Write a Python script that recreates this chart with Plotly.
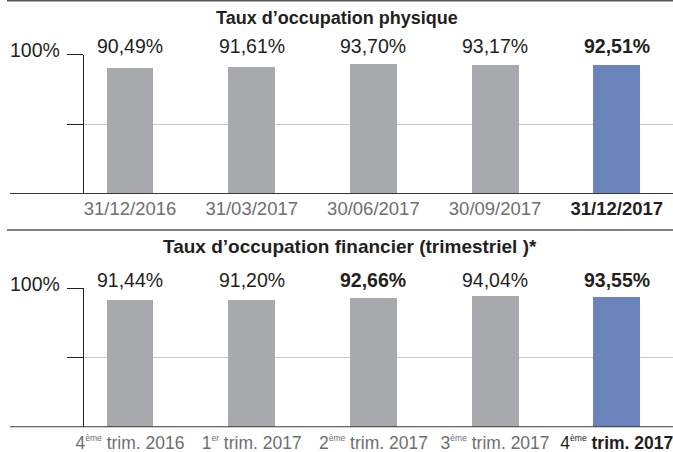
import plotly.graph_objects as go

# ---- data ----
SUP = "<sup><span style='font-size:8.5px'>%s</span></sup>"
phys_categories = ["31/12/2016", "31/03/2017", "30/06/2017", "30/09/2017", "31/12/2017"]
phys_values = [90.49, 91.61, 93.70, 93.17, 92.51]
phys_labels = ["90,49%", "91,61%", "93,70%", "93,17%", "92,51%"]
phys_bold = [False, False, False, False, True]

fin_categories = ["4" + SUP % "ème" + " trim. 2016", "1" + SUP % "er" + " trim. 2017",
                  "2" + SUP % "ème" + " trim. 2017", "3" + SUP % "ème" + " trim. 2017",
                  "4" + SUP % "ème" + " <b>trim. 2017</b>"]
fin_values = [91.44, 91.20, 92.66, 94.04, 93.55]
fin_labels = ["91,44%", "91,20%", "92,66%", "94,04%", "93,55%"]
fin_bold = [False, False, True, False, True]

title_phys = "Taux d’occupation physique"
title_fin = "Taux d’occupation financier (trimestriel )*"

y_ticks = [50, 100]

# ---- style ----
W, H = 673, 452
FONT = "Liberation Sans, Arial, Helvetica, sans-serif"
GRAY = "#a7a9ac"
BLUE = "#6b84bc"
DARK = "#231f20"
TICKGRAY = "#6d6e71"
GRID = "#c8c8c8"

bar_colors = [GRAY, GRAY, GRAY, GRAY, BLUE]
xpos = list(range(len(phys_values)))

fig = go.Figure()
fig.add_trace(go.Bar(x=xpos, y=phys_values, width=0.386, marker=dict(color=bar_colors, line=dict(width=0)),
                     xaxis="x", yaxis="y", hoverinfo="skip", showlegend=False))
fig.add_trace(go.Bar(x=xpos, y=fin_values, width=0.386, marker=dict(color=bar_colors, line=dict(width=0)),
                     xaxis="x2", yaxis="y2", hoverinfo="skip", showlegend=False))

x_left_px, x_right_px = 84, 673
c0, step = 130, 121.7
xr = [(x_left_px - c0) / step, (x_right_px - c0) / step]

def pyp(px):
    return 1 - px / H

top_base, top_100 = 194, 54.5
bot_base, bot_100 = 427.3, 288

def xaxis_cfg(cats, standoff, size):
    texts = list(cats[:-1])
    last = cats[-1]
    if "<b>" not in last:
        last = "<b>" + last + "</b>"
    texts.append("<span style='color:%s'>%s</span>" % (DARK, last))
    return dict(domain=[x_left_px / W, 1], range=xr, tickmode="array", tickvals=xpos, ticktext=texts,
                showline=False, showgrid=False, zeroline=False, ticks="", fixedrange=True,
                tickangle=0, automargin=False, ticklabelstandoff=standoff, ticklabeloverflow="allow",
                tickfont=dict(family=FONT, size=size, color=TICKGRAY))

def yaxis_cfg(base, top, anchor):
    return dict(domain=[pyp(base), pyp(top)], range=[0, 100], anchor=anchor,
                tickmode="array", tickvals=y_ticks, showticklabels=False, automargin=False,
                ticks="outside", ticklen=16, tickwidth=1.2, tickcolor=DARK,
                showline=True, linecolor=DARK, linewidth=1.4,
                showgrid=True, gridcolor=GRID, gridwidth=1, zeroline=False, fixedrange=True)

fig.update_layout(
    width=W, height=H, margin=dict(l=0, r=0, t=0, b=0, autoexpand=False),
    paper_bgcolor="white", plot_bgcolor="white",
    font=dict(family=FONT, color=DARK),
    bargap=0,
    xaxis=dict(**xaxis_cfg(phys_categories, 1, 18.5), anchor="y"),
    yaxis=yaxis_cfg(top_base, top_100, "x"),
    xaxis2=dict(**xaxis_cfg(fin_categories, 3, 17.5), anchor="y2"),
    yaxis2=yaxis_cfg(bot_base, bot_100, "x2"),
)

shapes = []
# baselines
for yref in ["y", "y2"]:
    shapes.append(dict(type="line", xref="paper", yref=yref, x0=10 / W, x1=1, y0=0, y1=0,
                       line=dict(color="#3a3a3a", width=2)))
# separators
for py in [0.8, 230]:
    shapes.append(dict(type="line", xref="paper", yref="paper", x0=7 / W, x1=1, y0=pyp(py), y1=pyp(py),
                       line=dict(color="#555555", width=1.6)))
fig.update_layout(shapes=shapes)

ann = []
ann.append(dict(text="<b>" + title_phys + "</b>", x=0.5, y=pyp(18.3), xref="paper", yref="paper",
                showarrow=False, xanchor="center", yanchor="middle", font=dict(size=18, color=DARK)))
ann.append(dict(text="<b>" + title_fin + "</b>", x=350 / W, y=pyp(246.7), xref="paper", yref="paper",
                showarrow=False, xanchor="center", yanchor="middle", font=dict(size=19, color=DARK)))
for py in [49.7, 284.2]:
    ann.append(dict(text="100%", x=35 / W, y=pyp(py), xref="paper", yref="paper",
                    showarrow=False, xanchor="center", yanchor="middle", font=dict(size=19.5, color=DARK)))
for xr_, py, labels, bolds in [("x", 45.7, phys_labels, phys_bold), ("x2", 279.5, fin_labels, fin_bold)]:
    for i, (t, b) in enumerate(zip(labels, bolds)):
        ann.append(dict(text=("<b>%s</b>" % t) if b else t, x=xpos[i], y=pyp(py), xref=xr_, yref="paper",
                        showarrow=False, xanchor="center", yanchor="middle",
                        font=dict(size=19.5, color=DARK)))
fig.update_layout(annotations=ann)

fig.write_html("out.html", config={"displayModeBar": False},
               post_script="document.body.style.margin='0';document.body.style.overflow='hidden';")
